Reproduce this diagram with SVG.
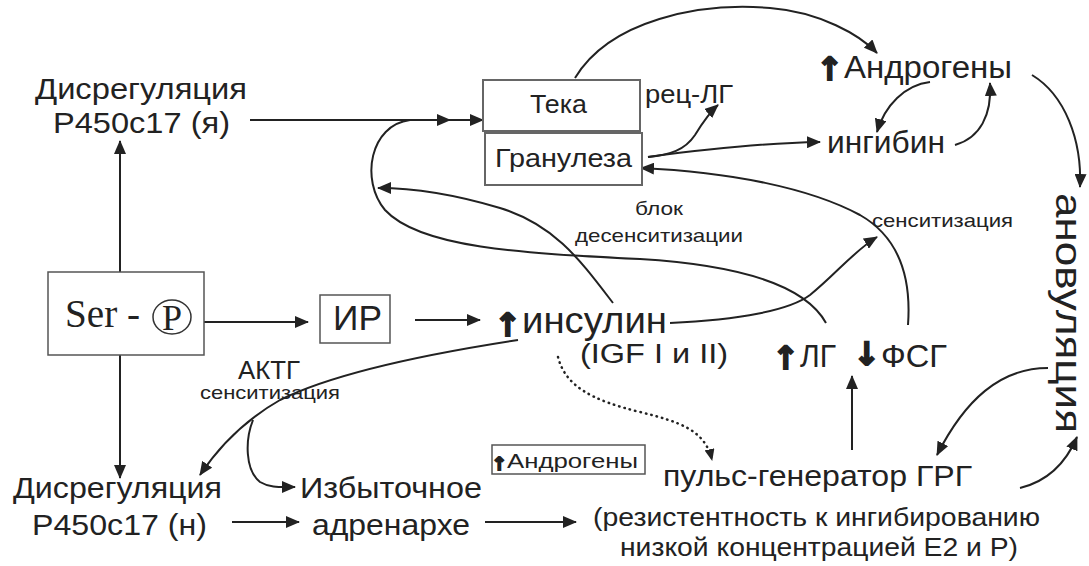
<svg xmlns="http://www.w3.org/2000/svg" width="1089" height="566" viewBox="0 0 1089 566">
<style>
text{font-family:"Liberation Sans",Arial,sans-serif;fill:#222}
.serif{font-family:"Liberation Serif","Times New Roman",serif}
.arw{font-family:"DejaVu Sans",sans-serif;font-weight:bold;stroke:#222;stroke-width:1.8;text-anchor:middle}
.box{fill:#fff;stroke:#666;stroke-width:2}
.c{fill:none;stroke:#222;stroke-width:2;marker-end:url(#ah)}
.dot{fill:none;stroke:#222;stroke-width:2.5;stroke-dasharray:0.5 5;stroke-linecap:round;marker-end:url(#ahs)}
</style>
<defs>
<marker id="ah" markerUnits="userSpaceOnUse" markerWidth="14" markerHeight="12" refX="13" refY="6" orient="auto">
<path d="M0,0 L14,6 L0,12 z" fill="#222"/>
</marker>
<marker id="ahs" markerUnits="userSpaceOnUse" markerWidth="12" markerHeight="10" refX="11" refY="5" orient="auto">
<path d="M0,0 L12,5 L0,10 z" fill="#222"/>
</marker>
</defs>
<rect width="1089" height="566" fill="#fff"/>

<g id="connectors">
<path class="c" d="M120,272 L120,141"/>
<path class="c" d="M120,355 L120,478"/>
<path class="c" d="M204,322 L308,322"/>
<path class="c" d="M415,320 L480,320"/>
<path class="c" d="M250,120 L483,120"/>
<path class="c" d="M826,323 C805,285 740,265 640,259 C520,253 420,248 385,210 C360,180 370,125 410,120 L450,120"/>
<path class="c" d="M613,303 C580,260 555,225 500,208 C460,196 420,188 378,188"/>
<path class="c" d="M670,323 C740,320 790,310 810,295 C835,275 855,250 877,237"/>
<path class="c" d="M908,325 C912,270 895,235 860,215 C810,188 730,172 641,168"/>
<path class="c" d="M575,78 C610,20 700,2 770,8 C820,12 860,35 877,53"/>
<path class="c" d="M648,157 C670,155 685,150 695,135 C703,122 710,112 718,105"/>
<path class="c" d="M648,157 C700,150 760,143 820,142"/>
<path class="c" d="M930,82 C905,85 885,105 877,132"/>
<path class="c" d="M955,145 C980,138 992,115 990,83"/>
<path class="c" d="M1032,75 C1065,95 1082,140 1080,187"/>
<path class="c" d="M1048,368 C1000,368 965,400 937,455"/>
<path class="c" d="M1020,488 C1045,482 1065,465 1077,437"/>
<path class="c" d="M852,450 L852,376"/>
<path class="c" d="M518,340 C420,355 330,375 280,400 C245,420 220,445 200,475"/>
<path class="c" d="M253,420 C245,440 245,470 260,482 C270,488 280,487 295,487"/>
<path class="c" d="M232,522 L299,522"/>
<path class="c" d="M485,522 L576,522"/>
<path class="dot" d="M558,357 C565,385 590,400 640,412 C680,422 705,430 712,460"/>
</g>

<g id="disreg-ya">
<text x="35" y="99" font-size="29" textLength="212" lengthAdjust="spacingAndGlyphs">Дисрегуляция</text>
<text x="53" y="133" font-size="29" textLength="177" lengthAdjust="spacingAndGlyphs">P450c17 (я)</text>
</g>

<g id="teka">
<rect class="box" x="483" y="80" width="157" height="51"/>
<text x="530" y="113" font-size="25" textLength="57" lengthAdjust="spacingAndGlyphs">Тека</text>
</g>
<g id="granuleza">
<rect class="box" x="485" y="133" width="157" height="52"/>
<text x="495" y="167" font-size="25" textLength="137" lengthAdjust="spacingAndGlyphs">Гранулеза</text>
</g>
<g id="rec-lg">
<text x="645" y="103" font-size="25" textLength="88" lengthAdjust="spacingAndGlyphs">рец-ЛГ</text>
</g>
<g id="androgeny-top">
<text class="arw" x="830" y="80" font-size="32">↑</text>
<text x="844" y="78" font-size="31" textLength="168" lengthAdjust="spacingAndGlyphs">Андрогены</text>
</g>
<g id="ingibin">
<text x="827" y="153" font-size="31" textLength="118" lengthAdjust="spacingAndGlyphs">ингибин</text>
</g>
<g id="blok">
<text x="635" y="215" font-size="19" textLength="48" lengthAdjust="spacingAndGlyphs">блок</text>
<text x="575" y="242" font-size="19" textLength="168" lengthAdjust="spacingAndGlyphs">десенситизации</text>
</g>
<g id="sensit-right">
<text x="872" y="227" font-size="19" textLength="141" lengthAdjust="spacingAndGlyphs">сенситизация</text>
</g>
<g id="anovulation">
<text transform="translate(1056,193) rotate(90)" x="0" y="0" font-size="37" textLength="240" lengthAdjust="spacingAndGlyphs">ановуляция</text>
</g>
<g id="ser-p">
<rect x="48" y="272" width="156" height="83" fill="#fff" stroke="#555" stroke-width="1.5"/>
<text class="serif" x="65" y="327" font-size="39" textLength="75" lengthAdjust="spacingAndGlyphs">Ser -</text>
<ellipse cx="172" cy="317" rx="19" ry="17" fill="none" stroke="#333" stroke-width="1.5"/>
<text class="serif" x="172" y="330" font-size="36" text-anchor="middle">P</text>
</g>
<g id="ir">
<rect x="320" y="295" width="70" height="48" fill="#fff" stroke="#555" stroke-width="1.5"/>
<text x="333" y="330" font-size="35" textLength="49" lengthAdjust="spacingAndGlyphs">ИР</text>
</g>
<g id="insulin">
<text class="arw" x="508" y="336" font-size="32">↑</text>
<text x="522" y="333" font-size="36" textLength="145" lengthAdjust="spacingAndGlyphs">инсулин</text>
<text x="580" y="363" font-size="27" textLength="148" lengthAdjust="spacingAndGlyphs">(IGF I и II)</text>
</g>
<g id="lg-fsg">
<text class="arw" x="786" y="369" font-size="32">↑</text>
<text x="800" y="367" font-size="31" textLength="36" lengthAdjust="spacingAndGlyphs">ЛГ</text>
<text class="arw" x="867" y="365" font-size="32">↓</text>
<text x="881" y="367" font-size="31" textLength="66" lengthAdjust="spacingAndGlyphs">ФСГ</text>
</g>
<g id="aktg">
<text x="238" y="379" font-size="25" textLength="62" lengthAdjust="spacingAndGlyphs">АКТГ</text>
<text x="200" y="399" font-size="19" textLength="140" lengthAdjust="spacingAndGlyphs">сенситизация</text>
</g>
<g id="androgeny-box">
<rect x="492" y="445" width="153" height="29" fill="#fff" stroke="#555" stroke-width="1.5"/>
<text class="arw" x="499" y="470" font-size="18" stroke-width="1.2">↑</text>
<text x="507" y="468" font-size="20" textLength="131" lengthAdjust="spacingAndGlyphs">Андрогены</text>
</g>
<g id="disreg-n">
<text x="13" y="498" font-size="29" textLength="209" lengthAdjust="spacingAndGlyphs">Дисрегуляция</text>
<text x="32" y="535" font-size="29" textLength="175" lengthAdjust="spacingAndGlyphs">P450c17 (н)</text>
</g>
<g id="adrenarhe">
<text x="300" y="498" font-size="29" textLength="182" lengthAdjust="spacingAndGlyphs">Избыточное</text>
<text x="312" y="535" font-size="29" textLength="158" lengthAdjust="spacingAndGlyphs">адренархе</text>
</g>
<g id="pulse-gen">
<text x="663" y="486" font-size="29" textLength="309" lengthAdjust="spacingAndGlyphs">пульс-генератор ГРГ</text>
<text x="593" y="526" font-size="26" textLength="447" lengthAdjust="spacingAndGlyphs">(резистентность к ингибированию</text>
<text x="620" y="556" font-size="26" textLength="398" lengthAdjust="spacingAndGlyphs">низкой концентрацией E2 и P)</text>
</g>
</svg>
